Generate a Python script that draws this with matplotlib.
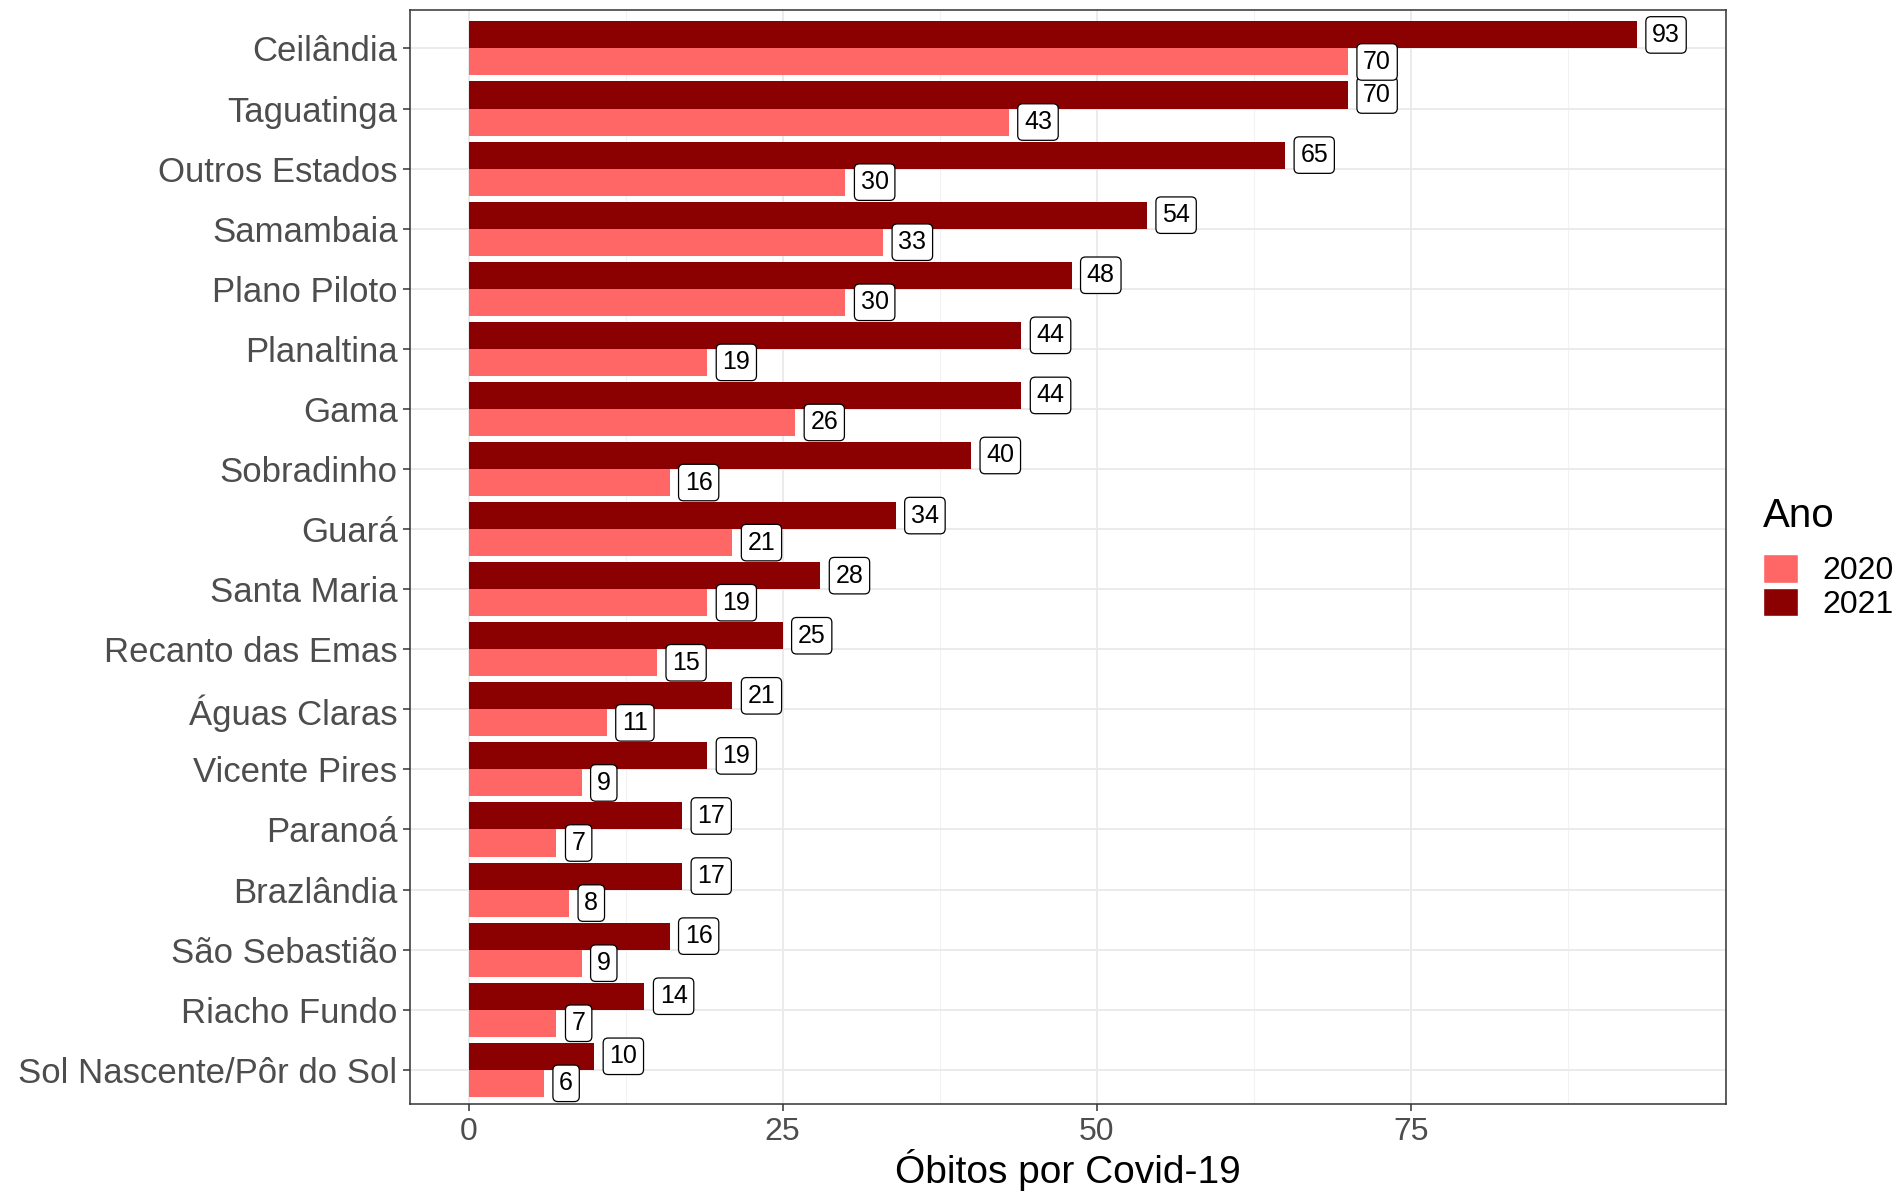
import numpy as np
import matplotlib
matplotlib.use('Agg')
import matplotlib.pyplot as plt
from matplotlib.patches import Patch
from matplotlib.ticker import MultipleLocator

plt.rcParams['font.family'] = ['Liberation Sans', 'DejaVu Sans']

# data, top to bottom as in the chart
regioes = ['Ceilândia', 'Taguatinga', 'Outros Estados', 'Samambaia', 'Plano Piloto',
           'Planaltina', 'Gama', 'Sobradinho', 'Guará', 'Santa Maria',
           'Recanto das Emas', 'Águas Claras', 'Vicente Pires', 'Paranoá',
           'Brazlândia', 'São Sebastião', 'Riacho Fundo', 'Sol Nascente/Pôr do Sol']
obitos_2021 = [93, 70, 65, 54, 48, 44, 44, 40, 34, 28, 25, 21, 19, 17, 17, 16, 14, 10]
obitos_2020 = [70, 43, 30, 33, 30, 19, 26, 16, 21, 19, 15, 11, 9, 7, 8, 9, 7, 6]
anos = ['2020', '2021']
cores = {'2020': '#FF6666', '2021': '#8B0000'}

n = len(regioes)
pos = np.arange(n)[::-1]  # first category at the top
h = 0.45

fig = plt.figure(figsize=(19.03, 11.91), dpi=100)
ax = fig.add_axes([0.2155, 0.073, 0.907 - 0.2155, 0.9916 - 0.073])

ax.barh(pos + h / 2, obitos_2021, height=h, color=cores['2021'], zorder=3)
ax.barh(pos - h / 2, obitos_2020, height=h, color=cores['2020'], zorder=3)

box = dict(boxstyle='round,pad=0.25,rounding_size=0.2', fc='white', ec='black', lw=0.9)
for y, v in zip(pos + h / 2, obitos_2021):
    ax.annotate(str(v), (v, y), xytext=(11, 0), textcoords='offset points',
                ha='left', va='center', fontsize=18, bbox=box, zorder=4)
for y, v in zip(pos - h / 2, obitos_2020):
    ax.annotate(str(v), (v, y), xytext=(11, 0), textcoords='offset points',
                ha='left', va='center', fontsize=18, bbox=box, zorder=4)

ax.set_xlim(-4.65, 100.1)
ax.set_ylim(-0.57, n - 1 + 0.64)
ax.set_yticks(pos)
ax.set_yticklabels(regioes)
ax.xaxis.set_minor_locator(MultipleLocator(12.5))
ax.set_xticks([0, 25, 50, 75])

ax.grid(which='major', color='#EBEBEB', lw=1.4, zorder=0)
ax.grid(which='minor', axis='x', color='#F2F2F2', lw=0.8, zorder=0)
ax.tick_params(axis='both', which='major', length=5, width=1.1, color='#333333',
               labelcolor='#4D4D4D', pad=4)
ax.tick_params(axis='y', labelsize=25)
ax.tick_params(axis='x', labelsize=23)
ax.tick_params(axis='x', which='minor', length=0)
for s in ax.spines.values():
    s.set_color('#333333')
    s.set_linewidth(1.1)

ax.set_xlabel('Óbitos por Covid-19', fontsize=28, labelpad=2)

# legend: title drawn separately so the gap to the keys can be set
fig.text(1763 / 1903, 1 - 516 / 1191, 'Ano', fontsize=29, ha='left', va='center')
handles = [Patch(facecolor=cores[a], edgecolor='white', label=a) for a in anos]
fig.legend(handles=handles, loc='center left',
           bbox_to_anchor=(1763 / 1903, 1 - 587 / 1191), frameon=False, fontsize=23,
           handlelength=1.1, handleheight=1.0, handletextpad=0.75,
           labelspacing=0.05, borderpad=0, borderaxespad=0)

plt.savefig('out.png', dpi=100)
plt.close()
